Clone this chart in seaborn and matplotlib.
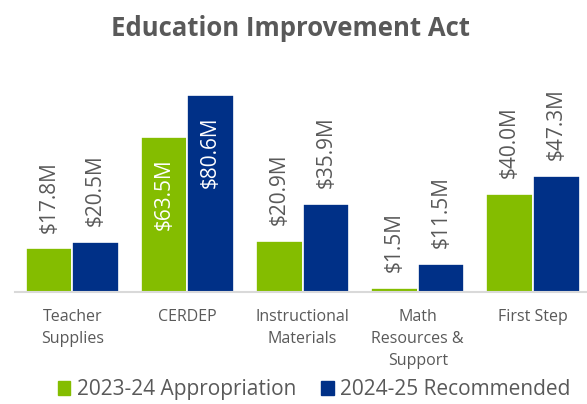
import pandas as pd
import matplotlib.pyplot as plt
import seaborn as sns

# Data
categories = ["Teacher\nSupplies", "CERDEP", "Instructional\nMaterials", "Math\nResources &\nSupport", "First Step"]
appropriation_2324 = [17.8, 63.5, 20.9, 1.5, 40.0]
recommended_2425 = [20.5, 80.6, 35.9, 11.5, 47.3]
series_names = ["2023-24 Appropriation", "2024-25 Recommended"]

df = pd.DataFrame({
    "category": categories * 2,
    "value": appropriation_2324 + recommended_2425,
    "series": [series_names[0]] * len(categories) + [series_names[1]] * len(categories),
})

sns.set_style("white")
plt.rcParams["font.family"] = ["Open Sans", "DejaVu Sans"]

green = "#84BD00"
blue = "#003087"
gray = "#595959"

fig = plt.figure(figsize=(5.87, 4.04), dpi=100)
ax = fig.add_axes([0.025, 0.277, 0.975, 0.57])

sns.barplot(data=df, x="category", y="value", hue="series", palette=[green, blue],
            saturation=1, width=0.81, edgecolor="white", linewidth=1.2, ax=ax, legend=False)

ax.set_ylim(0, 94)
ax.set_xlim(-0.5, 4.47)
ax.set_xlabel("")
ax.set_ylabel("")
ax.set_yticks([])
for s in ["top", "right", "left"]:
    ax.spines[s].set_visible(False)
ax.spines["bottom"].set_color("#D9D9D9")
ax.spines["bottom"].set_linewidth(1.5)
ax.tick_params(axis="x", length=0, pad=12, labelsize=11.5, labelcolor=gray)
for t in ax.get_xticklabels():
    t.set_verticalalignment("top")
    t.set_linespacing(1.5)

# value labels
for container in ax.containers:
    for bar in container:
        v = bar.get_height()
        x = bar.get_x() + bar.get_width() / 2
        label = f"${v:.1f}M"
        if v > 60:
            ax.text(x, v - 9, label, rotation=90, ha="center", va="top",
                    color="white", fontsize=15)
        else:
            ax.text(x, v + 6.5, label, rotation=90, ha="center", va="bottom",
                    color=gray, fontsize=15)

fig.text(0.495, 0.93, "Education Improvement Act", ha="center", va="center",
         fontsize=18.5, fontweight="bold", color=gray)

handles = [plt.Rectangle((0, 0), 1, 1, color=green), plt.Rectangle((0, 0), 1, 1, color=blue)]
fig.legend(handles, series_names, loc="center", bbox_to_anchor=(0.535, 0.035), ncol=2,
           frameon=False, fontsize=15, labelcolor=gray, handlelength=0.6, handleheight=0.6,
           handletextpad=0.3, columnspacing=1.2)

fig.savefig("out.png", dpi=100)
